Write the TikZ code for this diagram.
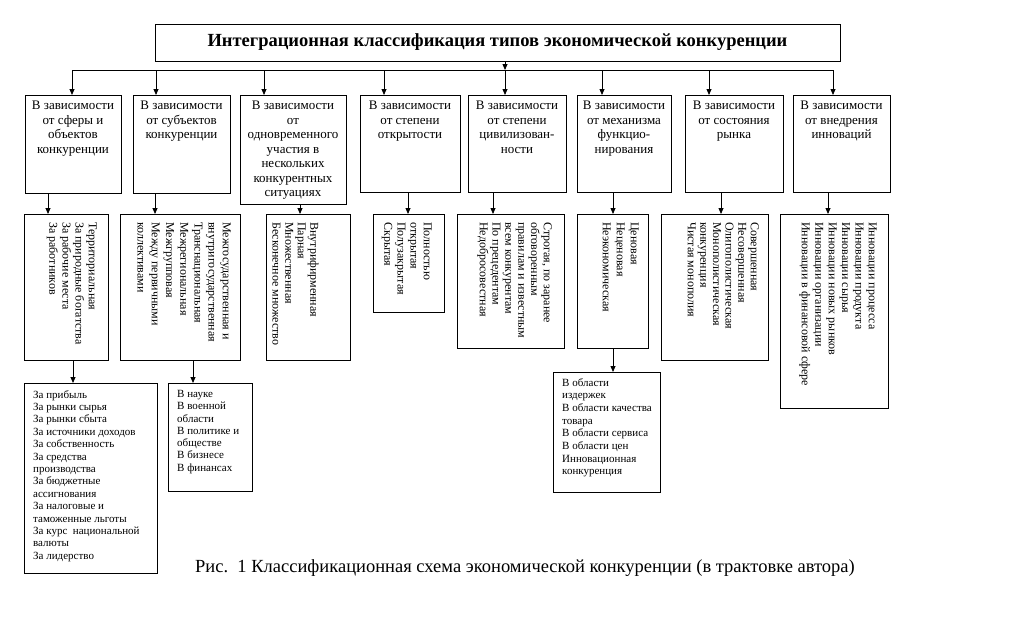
\documentclass[tikz,border=0pt]{standalone}
\usepackage{fontspec}
\setmainfont{Liberation Serif}
\usetikzlibrary{arrows.meta,calc}
\newcommand\mkbox[5]{\node[box, anchor=north west, minimum width={#4-#2}, minimum height={#5-#3}] (#1) at (#2,#3) {};}
\begin{document}
\begin{tikzpicture}[x=1pt,y=-1pt,
  box/.style={draw, line width=0.9pt, inner sep=0pt, outer sep=0pt},
  con/.style={line width=0.8pt},
  arr/.style={con, -{Triangle[length=6pt,width=5pt]}},
  hdr/.style={anchor=north, align=center, inner sep=0pt, font=\fontsize{13}{14.5}\selectfont},
  vtxt/.style={rotate=-90, anchor=north west, align=left, inner sep=0pt, font=\fontsize{12}{13.2}\selectfont},
  ltxt/.style={anchor=north west, align=left, inner sep=0pt, font=\fontsize{11}{12.4}\selectfont}
]
\useasboundingbox[fill=white] (0,0) rectangle (1009,637);

% title
\node[box, minimum width=685, minimum height=37] (title) at (497.5,42.5)
  {\fontsize{18.5}{20}\selectfont\bfseries Интеграционная классификация типов экономической конкуренции};

% row 1 boxes
\mkbox{b1}{25}{95}{121}{193}
\mkbox{b2}{133}{95}{230}{193}
\mkbox{b3}{240}{95}{346}{204}
\mkbox{b4}{360}{95}{460}{192}
\mkbox{b5}{468}{95}{566}{192}
\mkbox{b6}{577}{95}{671}{192}
\mkbox{b7}{685}{95}{783}{192}
\mkbox{b8}{793}{95}{890}{192}

\node[hdr] (h1) at ($(b1.north)+(0,6)$) {В зависимости\\от сферы и\\объектов\\конкуренции};
\node[hdr] (h2) at ($(b2.north)+(0,6)$) {В зависимости\\от субъектов\\конкуренции};
\node[hdr] (h3) at ($(b3.north)+(0,6)$) {В зависимости\\от\\одновременного\\участия в\\нескольких\\конкурентных\\ситуациях};
\node[hdr] (h4) at ($(b4.north)+(0,6)$) {В зависимости\\от степени\\открытости};
\node[hdr] (h5) at ($(b5.north)+(0,6)$) {В зависимости\\от степени\\цивилизован-\\ности};
\node[hdr] (h6) at ($(b6.north)+(0,6)$) {В зависимости\\от механизма\\функцио-\\нирования};
\node[hdr] (h7) at ($(b7.north)+(0,6)$) {В зависимости\\от состояния\\рынка};
\node[hdr] (h8) at ($(b8.north)+(0,6)$) {В зависимости\\от внедрения\\инноваций};

% row 2 boxes
\mkbox{r1}{24}{214}{108}{360}
\mkbox{r2}{120}{214}{240}{360}
\mkbox{r3}{266}{214}{350}{360}
\mkbox{r4}{373}{214}{444}{312}
\mkbox{r5}{457}{214}{564}{348}
\mkbox{r6}{577}{214}{648}{348}
\mkbox{r7}{661}{214}{768}{360}
\mkbox{r8}{780}{214}{888}{408}

\node[vtxt] (t1) at (97,222) {Территориальная\\За природные богатства\\За рабочие места\\За работников};
\node[vtxt, font=\fontsize{12}{14.2}\selectfont] (t2) at (231,222) {Межгосударственная и\\внутригосударственная\\Транснациональная\\Межрегиональная\\Межгрупповая\\Между первичными\\коллективами};
\node[vtxt, font=\fontsize{12}{12.6}\selectfont] (t3) at (319,222) {Внутрифирменная\\Парная\\Множественная\\Бесконечное множество};
\node[vtxt] (t4) at (432,222) {Полностью\\открытая\\Полузакрытая\\Скрытая};
\node[vtxt, font=\fontsize{12}{12.8}\selectfont] (t5) at (552,222) {Строгая, по заранее\\обговоренным\\правилам и известным\\всем конкурентам\\По прецедентам\\Недобросовестная};
\node[vtxt, font=\fontsize{12}{14}\selectfont] (t6) at (639,222) {Ценовая\\Неценовая\\Неэкономическая};
\node[vtxt, font=\fontsize{12}{12.6}\selectfont] (t7) at (759,222) {Совершенная\\Несовершенная\\Олигополистическая\\Монополистическая\\конкуренция\\Чистая монополия};
\node[vtxt, font=\fontsize{12}{13.4}\selectfont] (t8) at (877,222) {Инновации процесса\\Инновации продукта\\Инновации сырья\\Инновации новых рынков\\Инновации организации\\Инновации в финансовой сфере};

% row 3 boxes
\mkbox{s1}{24}{383}{157}{573}
\mkbox{s2}{168}{383}{252}{491}
\mkbox{s6}{553}{372}{660}{492}

\node[ltxt] (u1) at (33,390) {За прибыль\\За рынки сырья\\За рынки сбыта\\За источники доходов\\За собственность\\За средства\\производства\\За бюджетные\\ассигнования\\За налоговые и\\таможенные льготы\\За курс\ \ национальной\\валюты\\За лидерство};
\node[ltxt, font=\fontsize{11}{12.3}\selectfont] (u2) at (177,390) {В науке\\В военной\\области\\В политике и\\обществе\\В бизнесе\\В финансах};
\node[ltxt, font=\fontsize{11}{12.7}\selectfont] (u6) at (562,378) {В области\\издержек\\В области качества\\товара\\В области сервиса\\В области цен\\Инновационная\\конкуренция};

% caption
\node[inner sep=0pt, font=\fontsize{18.5}{20}\selectfont] (cap) at (525,568) {Рис.\ \ 1 Классификационная схема экономической конкуренции (в трактовке автора)};

% connectors: title to bus
\coordinate (hub) at (505,70);
\coordinate (busL) at (72,70);
\coordinate (busR) at (833,70);
\draw[arr] (title.south -| hub) -- (hub);
\draw[con] (busL) -- (busR);
\foreach \n/\x in {1/72,2/156,3/264,4/384,5/505,6/602,7/709,8/833}{
  \coordinate (a\n) at (\x,70);
  \draw[arr] (a\n) -- (b\n.north -| a\n);
}
% row1 to row2
\foreach \n/\x in {1/48,2/155,3/300,4/408,5/493,6/613,7/721,8/828}{
  \coordinate (k\n) at (\x,0);
  \draw[arr] (b\n.south -| k\n) -- (r\n.north -| k\n);
}
% row2 to row3
\foreach \n/\x in {1/73,2/193,6/613}{
  \coordinate (m\n) at (\x,0);
  \draw[arr] (r\n.south -| m\n) -- (s\n.north -| m\n);
}
\end{tikzpicture}
\end{document}
